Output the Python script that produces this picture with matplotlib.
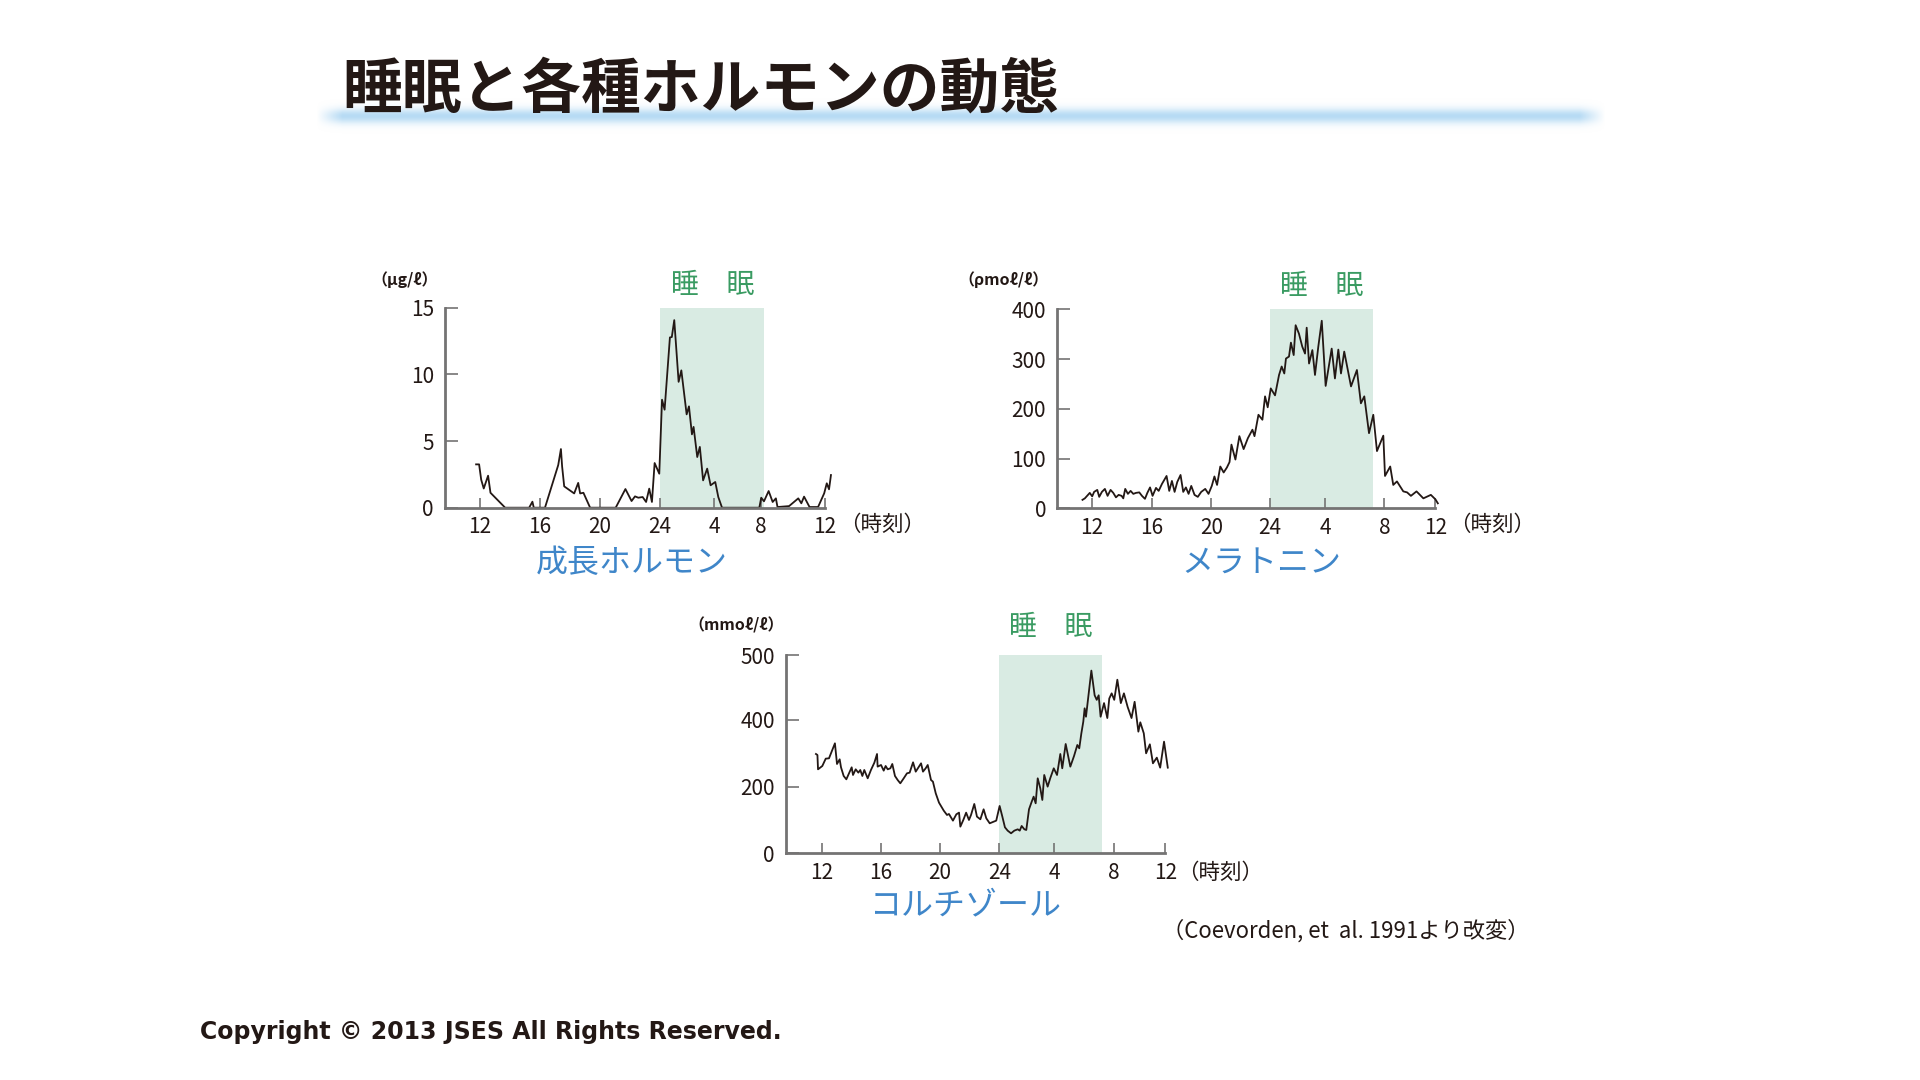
import numpy as np
import matplotlib
matplotlib.use('Agg')
import matplotlib.pyplot as plt

plt.rcParams['font.family'] = ['Noto Sans CJK JP', 'DejaVu Sans']

W, H = 1920, 1080

# x axis: hours from noon (12) to noon of the next day (36)
hour_ticks = [12, 16, 20, 24, 28, 32, 36]
hour_labels = ['12', '16', '20', '24', '4', '8', '12']

# growth hormone (µg/l)
gh_hours = [11.73, 11.93, 12.07, 12.24, 12.53, 12.69, 13.67, 15.27, 15.49, 15.58,
            16.33, 17.22, 17.4, 17.48, 17.62, 18.29, 18.56, 18.69, 18.91, 19.36,
            21.07, 21.72, 22.13, 22.36, 22.58, 22.87, 23.1, 23.31, 23.49, 23.67,
            23.98, 24.18, 24.37, 24.76, 24.9, 25.08, 25.4, 25.6, 25.99, 26.16,
            26.38, 26.5, 26.77, 26.96, 27.2, 27.5, 27.75, 28.11, 28.37, 28.69,
            31.89, 32.04, 32.21, 32.5, 32.75, 32.95, 33.05, 33.77, 34.34, 34.53,
            34.7, 35.04, 35.57, 35.95, 36.11, 36.25, 36.37]
gh_values = [3.25, 3.25, 2.1, 1.44, 2.4, 1.12, 0, 0, 0.45, 0,
             0, 3.2, 4.4, 3.1, 1.6, 1.07, 1.86, 1.07, 1.12, 0,
             0, 1.4, 0.5, 0.85, 0.75, 0.8, 0.43, 1.43, 0.43, 3.35,
             2.55, 8.1, 7.35, 12.77, 12.8, 14.07, 9.44, 10.3, 7.0, 7.6,
             5.5, 6.06, 3.8, 4.56, 2.05, 2.93, 1.68, 1.93, 0.8, 0,
             0, 0.75, 0.48, 1.25, 0.43, 0.7, 0.05, 0.12, 0.7, 0.33,
             0.83, 0.05, 0.05, 1.08, 1.83, 1.38, 2.45]
gh_sleep = (24, 32.2)
gh_yticks = [0, 5, 10, 15]

# melatonin (pmol/l)
mel_hours = [11.35, 11.51, 11.84, 12.0, 12.13, 12.34, 12.47, 12.65, 12.85, 13.03,
             13.23, 13.41, 13.59, 13.77, 13.97, 14.08, 14.21, 14.39, 14.57, 14.75,
             14.93, 15.15, 15.33, 15.53, 15.69, 15.87, 16.04, 16.27, 16.45, 16.67,
             16.98, 17.16, 17.34, 17.52, 17.7, 17.92, 18.1, 18.28, 18.46, 18.64,
             18.86, 19.08, 19.31, 19.58, 19.8, 20.02, 20.2, 20.38, 20.6, 20.83,
             21.05, 21.23, 21.36, 21.63, 21.9, 22.19, 22.48, 22.79, 22.93, 23.2,
             23.47, 23.65, 23.83, 24.04, 24.35, 24.64, 24.83, 25.02, 25.14, 25.36,
             25.5, 25.7, 25.84, 26.08, 26.32, 26.52, 26.64, 26.81, 27.05, 27.24,
             27.48, 27.73, 28.01, 28.42, 28.64, 28.87, 29.05, 29.27, 29.73, 30.13,
             30.4, 30.63, 30.95, 31.24, 31.49, 31.92, 32.04, 32.45, 32.69, 32.98,
             33.48, 33.78, 34.08, 34.52, 35.06, 35.65, 36.01, 36.2]
mel_values = [17, 20, 31, 24, 33, 37, 23, 33, 39, 25,
              37, 31, 22, 27, 25, 20, 39, 29, 35, 29,
              31, 32, 25, 19, 31, 42, 25, 41, 35, 49,
              65, 35, 55, 33, 53, 67, 33, 42, 29, 45,
              27, 23, 33, 39, 29, 45, 64, 47, 84, 72,
              82, 93, 128, 98, 145, 119, 141, 158, 145, 188,
              178, 225, 203, 241, 227, 268, 285, 271, 301, 305,
              333, 308, 368, 351, 325, 311, 363, 291, 318, 268,
              325, 377, 246, 321, 261, 319, 271, 315, 245, 278,
              211, 225, 151, 188, 115, 146, 65, 84, 47, 54,
              34, 32, 25, 34, 20, 27, 18, 10]
mel_sleep = (24, 31.2)
mel_yticks = [0, 100, 200, 300, 400]

# cortisol (mmol/l)
cort_hours = [11.62, 11.72, 11.76, 12.05, 12.28, 12.5, 12.72, 12.9, 13.04, 13.22,
              13.31, 13.49, 13.67, 13.85, 14.03, 14.12, 14.3, 14.48, 14.61, 14.75,
              14.88, 15.11, 15.33, 15.56, 15.74, 15.78, 16.01, 16.19, 16.32, 16.46,
              16.64, 16.77, 16.95, 17.13, 17.31, 17.54, 17.76, 17.94, 18.17, 18.35,
              18.57, 18.71, 18.84, 19.02, 19.16, 19.38, 19.51, 19.7, 19.92, 20.24,
              20.46, 20.59, 20.86, 21.09, 21.27, 21.36, 21.56, 21.75, 21.94, 22.08,
              22.3, 22.48, 22.71, 22.93, 23.11, 23.34, 23.61, 23.78, 24.01, 24.21,
              24.4, 24.6, 24.85, 25.09, 25.34, 25.49, 25.63, 25.83, 25.97, 26.17,
              26.37, 26.51, 26.66, 26.81, 27.0, 27.15, 27.29, 27.54, 27.73, 27.99,
              28.21, 28.43, 28.56, 28.79, 29.1, 29.35, 29.57, 29.7, 29.84, 29.97,
              30.06, 30.15, 30.51, 30.73, 30.87, 31.0, 31.13, 31.36, 31.58, 31.71,
              31.87, 32.05, 32.29, 32.56, 32.8, 33.09, 33.39, 33.63, 33.92, 34.07,
              34.34, 34.52, 34.81, 35.05, 35.35, 35.61, 35.91, 36.2]
cort_values = [298, 295, 252, 262, 284, 285, 310, 330, 268, 282,
               258, 232, 222, 240, 258, 235, 252, 242, 250, 232,
               250, 225, 250, 272, 298, 260, 265, 248, 262, 252,
               255, 268, 232, 220, 210, 225, 240, 242, 273, 245,
               260, 270, 245, 255, 265, 220, 215, 180, 152, 128,
               115, 118, 98, 117, 122, 80, 100, 122, 100, 115,
               148, 110, 102, 132, 105, 90, 95, 98, 142, 110,
               78, 68, 60, 68, 72, 68, 82, 72, 70, 132,
               155, 170, 150, 225, 195, 160, 235, 200, 225, 255,
               235, 298, 255, 328, 260, 292, 325, 315, 360, 395,
               418, 405, 476, 438, 431, 438, 405, 426, 403, 433,
               441, 431, 462, 426, 441, 420, 403, 428, 365, 393,
               360, 300, 327, 270, 287, 257, 335, 257]
cort_sleep = (24, 31.2)
cort_yticks = [0, 200, 400, 500]

INK = '#231815'
AXIS = '#747373'
BAND = '#d9ebe3'
GREEN = '#3a9b62'
BLUE = '#3f86c9'


def rect_px(left, top, right, bottom):
    return [left / W, 1 - bottom / H, (right - left) / W, (bottom - top) / H]


def xy_px(x, y):
    return x / W, 1 - y / H


def piecewise_scale(knots, spans):
    # the source figure does not space its hour ticks evenly; spans are the
    # drawn distances (px) of each knot from the first one
    k = np.asarray(knots, dtype=float)
    s = np.asarray(spans, dtype=float)
    lo = (s[1] - s[0]) / (k[1] - k[0])
    hi = (s[-1] - s[-2]) / (k[-1] - k[-2])

    def fwd(v):
        v = np.asarray(v, dtype=float)
        u = np.interp(v, k, s)
        u = np.where(v < k[0], s[0] + (v - k[0]) * lo, u)
        return np.where(v > k[-1], s[-1] + (v - k[-1]) * hi, u)

    def inv(u):
        u = np.asarray(u, dtype=float)
        v = np.interp(u, s, k)
        v = np.where(u < s[0], k[0] + (u - s[0]) / lo, v)
        return np.where(u > s[-1], k[-1] + (u - s[-1]) / hi, v)

    return fwd, inv


def draw_panel(fig, rect, hours, values, sleep, xmin, ytop, yticks, xscale, yscale=None):
    ax = fig.add_axes(rect)
    ax.patch.set_alpha(0)
    ax.set_xscale('function', functions=xscale)
    if yscale is not None:
        ax.set_yscale('function', functions=yscale)
    ax.axvspan(sleep[0], sleep[1], color=BAND, lw=0, zorder=0)
    ax.plot(hours, values, color=INK, lw=1.3, clip_on=False, zorder=2)
    ax.set_xlim(xmin, 36)
    ax.set_ylim(0, ytop)
    ax.set_xticks(hour_ticks)
    ax.set_xticklabels(hour_labels)
    ax.set_yticks(yticks)
    ax.set_yticklabels([str(t) for t in yticks])
    ax.minorticks_off()
    for side in ['top', 'right']:
        ax.spines[side].set_visible(False)
    for side in ['left', 'bottom']:
        ax.spines[side].set_color(AXIS)
        ax.spines[side].set_linewidth(2.0)
    ax.tick_params(direction='in', color=AXIS, width=1.2, labelsize=15,
                   labelcolor=INK)
    ax.tick_params(axis='x', length=7.5, pad=6)
    ax.tick_params(axis='y', length=9, pad=8)
    return ax


def main():
    fig = plt.figure(figsize=(W / 100, H / 100), dpi=100)
    fig.patch.set_facecolor('white')

    # soft blue bar under the title
    bar = fig.add_axes(rect_px(316, 98, 1606, 134))
    bar.axis('off')
    yy = np.linspace(-1, 1, 60)[:, None]
    xx = np.linspace(0, 1, 800)[None, :]
    rgba = np.zeros((60, 800, 4))
    rgba[..., 0] = 0.72
    rgba[..., 1] = 0.86
    rgba[..., 2] = 0.96
    rgba[..., 3] = np.exp(-(yy / 0.42) ** 2) * np.clip(np.minimum(xx, 1 - xx) / 0.02, 0, 1)
    bar.imshow(rgba, aspect='auto', interpolation='bilinear')

    fig.text(*xy_px(342, 91), '睡眠と各種ホルモンの動態', fontsize=43,
             fontweight='bold', color=INK, ha='left', va='center')

    gh_scale = piecewise_scale(hour_ticks, [0, 59.9, 119.5, 179.4, 233.8, 280.4, 344.8])
    mel_scale = piecewise_scale(hour_ticks, [0, 59.8, 119.3, 178.0, 233.3, 292.3, 343.1])
    cort_scale = piecewise_scale(hour_ticks, [0, 59.3, 118.6, 177.9, 232.3, 292.0, 343.6])
    # the cortisol axis gives the 400-500 step about twice the room of the others
    cort_yscale = piecewise_scale([0, 400, 500], [0, 400, 595])

    panels = [
        (rect_px(445.1, 307.7, 825.0, 507.7), gh_hours, gh_values, gh_sleep, 9.66, 15,
         gh_yticks, gh_scale, None),
        (rect_px(1057.2, 309.3, 1435.3, 508.3), mel_hours, mel_values, mel_sleep, 9.66, 400,
         mel_yticks, mel_scale, None),
        (rect_px(786.0, 655.0, 1165.2, 853.3), cort_hours, cort_values, cort_sleep, 9.6, 500,
         cort_yticks, cort_scale, cort_yscale),
    ]
    for rect, hrs, vals, sleep, xmin, ytop, yt, xs, ys in panels:
        draw_panel(fig, rect, hrs, vals, sleep, xmin, ytop, yt, xs, ys)

    # units, sleep labels, hormone names, time label
    units = [('（μg/ℓ）', 405, 280), ('（ρmoℓ/ℓ）', 1004, 280), ('（mmoℓ/ℓ）', 736, 625)]
    for txt, x, y in units:
        fig.text(*xy_px(x, y), txt, fontsize=11.5, fontweight='bold', color=INK,
                 ha='center', va='center')

    for x, y in [(713, 285), (1322, 286), (1051, 627)]:
        fig.text(*xy_px(x, y), '睡　眠', fontsize=20, color=GREEN,
                 ha='center', va='center')

    names = [('成長ホルモン', 632, 563), ('メラトニン', 1261, 563), ('コルチゾール', 966, 905)]
    for txt, x, y in names:
        fig.text(*xy_px(x, y), txt, fontsize=23, color=BLUE, ha='center', va='center')

    for x, y in [(839, 525), (1449, 525), (1177, 873)]:
        fig.text(*xy_px(x, y), '（時刻）', fontsize=15.5, color=INK, ha='left', va='center')

    fig.text(*xy_px(1162, 931), '（Coevorden, et  al. 1991より改変）', fontsize=16,
             color=INK, ha='left', va='center')

    fig.text(*xy_px(200, 1032), 'Copyright © 2013 JSES All Rights Reserved.',
             fontsize=17, fontweight='bold', family=['DejaVu Sans'],
             color=INK, ha='left', va='center')

    fig.savefig('out.png', dpi=100, facecolor='white')


if __name__ == "__main__":
    main()
